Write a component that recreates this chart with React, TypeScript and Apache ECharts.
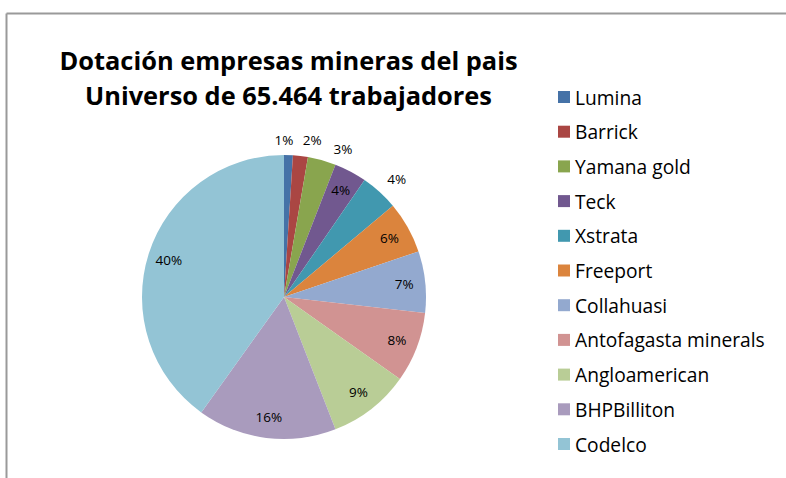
import React, { useEffect, useRef } from "react";
import * as echarts from "echarts";

const titleLines = ["Dotación empresas mineras del pais", "Universo de 65.464 trabajadores"];
const companies = [
  "Lumina",
  "Barrick",
  "Yamana gold",
  "Teck",
  "Xstrata",
  "Freeport",
  "Collahuasi",
  "Antofagasta minerals",
  "Angloamerican",
  "BHPBilliton",
  "Codelco",
];
// estimated share of the 65.464 workers (%)
const shares = [1.0, 1.7, 3.2, 3.7, 4.3, 5.9, 7.0, 8.0, 9.3, 15.8, 40.1];
const colors = [
  "#4572A7",
  "#AA4643",
  "#89A54E",
  "#71588F",
  "#4198AF",
  "#DB843D",
  "#93A9CF",
  "#D19392",
  "#B9CD96",
  "#A99BBD",
  "#93C4D5",
];
// which slices get their label outside the pie
const outsideLabel = [true, true, true, false, true, false, false, false, false, false, false];
const outsideOffsets: [number, number][] = [
  [-5, 0],
  [10, -1],
  [17, 3],
  [7, -2],
];

const TITLE_FONT = "'Open Sans', sans-serif";
const FONT = "'Open Sans', sans-serif";

export default function App() {
  const ref = useRef<HTMLDivElement>(null);
  useEffect(() => {
    if (!ref.current) return;
    const chart = echarts.init(ref.current, null, { renderer: "svg" });
    const center = [284, 297];
    const R = 142;
    let oi = 0;
    const baseData = companies.map((n, i) => ({
      name: n,
      value: shares[i],
      itemStyle: { color: colors[i] },
    }));
    const innerData = companies.map((n, i) => ({
      name: n,
      value: shares[i],
      label: { show: !outsideLabel[i] },
    }));
    const outerData = companies.map((n, i) => {
      const show = outsideLabel[i];
      const off = show ? outsideOffsets[oi++] : [0, 0];
      return { name: n, value: shares[i], label: { show, offset: off } };
    });
    const labelStyle = {
      position: "inside",
      formatter: "{d}%",
      fontFamily: FONT,
      fontSize: 13.5,
      color: "#000",
    };
    const overlayCommon = {
      type: "pie",
      center,
      startAngle: 90,
      clockwise: true,
      silent: true,
      avoidLabelOverlap: false,
      percentPrecision: 0,
      itemStyle: { color: "rgba(0,0,0,0)", borderWidth: 0 },
      labelLine: { show: false },
      emphasis: { disabled: true },
      legendHoverLink: false,
    };
    const titleText = (text: string, y: number) => ({
      type: "text",
      x: 288.5,
      y,
      style: {
        text,
        fontFamily: TITLE_FONT,
        fontWeight: "bold",
        fontSize: 25.4,
        fill: "#000",
        textAlign: "center",
        textVerticalAlign: "middle",
      },
    });
    chart.setOption({
      animation: false,
      backgroundColor: "#fff",
      legend: {
        orient: "vertical",
        left: 558,
        top: 87,
        padding: 0,
        data: companies,
        icon: "rect",
        itemWidth: 12,
        itemHeight: 12,
        itemGap: 14.7,
        selectedMode: false,
        textStyle: { fontFamily: FONT, fontSize: 19.2, color: "#000", lineHeight: 20 },
        itemStyle: { borderWidth: 0 },
      },
      graphic: [
        {
          type: "line",
          shape: { x1: 6.5, y1: 13.5, x2: 786, y2: 13.5 },
          style: { stroke: "#9a9a9a", lineWidth: 2 },
          silent: true,
        },
        {
          type: "line",
          shape: { x1: 6.5, y1: 13.5, x2: 6.5, y2: 478 },
          style: { stroke: "#9a9a9a", lineWidth: 2 },
          silent: true,
        },
        titleText(titleLines[0], 60),
        titleText(titleLines[1], 95),
      ],
      series: [
        {
          type: "pie",
          name: "base",
          center,
          radius: R,
          startAngle: 90,
          clockwise: true,
          avoidLabelOverlap: false,
          label: { show: false },
          labelLine: { show: false },
          itemStyle: { borderWidth: 0 },
          emphasis: { disabled: true },
          data: baseData,
        },
        {
          ...overlayCommon,
          name: "inner-labels",
          radius: [94, R],
          label: labelStyle,
          data: innerData,
        },
        {
          ...overlayCommon,
          name: "outer-labels",
          radius: [R + 2, R + 22],
          label: labelStyle,
          data: outerData,
        },
      ],
    });
    return () => chart.dispose();
  }, []);
  return (
    <div
      ref={ref}
      style={{ position: "fixed", left: 0, top: 0, width: 786, height: 478 }}
    />
  );
}
